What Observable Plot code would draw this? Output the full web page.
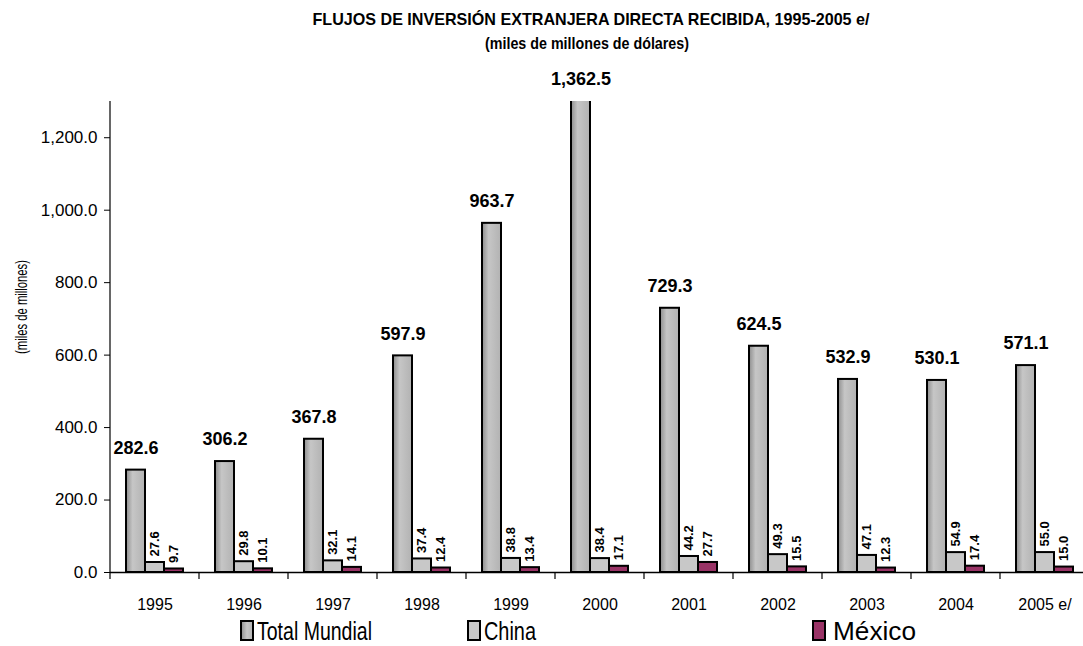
<!DOCTYPE html>
<html>
<head>
<meta charset="utf-8">
<script src="https://cdn.jsdelivr.net/npm/d3@7"></script>
<script src="https://cdn.jsdelivr.net/npm/@observablehq/plot@0.6"></script>
<style>
  html, body { margin: 0; padding: 0; background: #fff; }
  #wrap { position: relative; width: 1083px; height: 646px; overflow: hidden; font-family: "Liberation Sans", Arial, sans-serif; }
  #title { position: absolute; left: 0; top: 0; }
  #ylab { position: absolute; left: 0; top: 0; }
  #chart { position: absolute; left: 0; top: 60px; }
  #legend { position: absolute; left: 0; top: 610px; }
</style>
</head>
<body>
<div id="wrap">
  <svg id="title" width="1083" height="60">
    <text x="591" y="25" text-anchor="middle" font-family="Liberation Sans, Arial, sans-serif" font-weight="bold" font-size="17" textLength="557" lengthAdjust="spacingAndGlyphs">FLUJOS DE INVERSIÓN EXTRANJERA DIRECTA RECIBIDA, 1995-2005 e/</text>
    <text x="587" y="49" text-anchor="middle" font-family="Liberation Sans, Arial, sans-serif" font-weight="bold" font-size="17" textLength="204" lengthAdjust="spacingAndGlyphs">(miles de millones de dólares)</text>
  </svg>
  <div id="chart"></div>
  <svg id="ylab" width="50" height="646"></svg>
  <svg id="legend" width="1083" height="36"></svg>
</div>
<script>
const years = ["1995","1996","1997","1998","1999","2000","2001","2002","2003","2004","2005 e/"];
const totalMundial = [282.6, 306.2, 367.8, 597.9, 963.7, 1362.5, 729.3, 624.5, 532.9, 530.1, 571.1];
const china = [27.6, 29.8, 32.1, 37.4, 38.8, 38.4, 44.2, 49.3, 47.1, 54.9, 55.0];
const mexico = [9.7, 10.1, 14.1, 12.4, 13.4, 17.1, 27.7, 15.5, 12.3, 17.4, 15.0];
const seriesNames = ["Total Mundial", "China", "México"];
const seriesColors = ["url(#tmGrad)", "#c8c8c8", "#993366"];
const yTicks = [0, 200, 400, 600, 800, 1000, 1200];
const yMax = 1300;
const yLabel = "(miles de millones)";

const seriesValues = [totalMundial, china, mexico];
const rows = years.flatMap((yr, i) => seriesNames.map((s, k) => ({year: yr, series: s, value: seriesValues[k][i]})));
const fmt = d3.format(",.1f");

const chart = Plot.plot({
  width: 1083,
  height: 556,
  marginTop: 41,
  marginBottom: 44,
  marginLeft: 106,
  marginRight: -9,
  style: {fontFamily: "Liberation Sans, Arial, sans-serif", fontSize: "15px", color: "#000", background: "transparent"},
  fx: {domain: years, padding: 0, label: null},
  x: {domain: seriesNames, paddingInner: 0, paddingOuter: 0.74, axis: null},
  y: {domain: [0, yMax], ticks: yTicks},
  color: {domain: seriesNames, range: seriesColors},
  marks: [
    Plot.axisFx({anchor: "bottom", tickSize: 0, tickPadding: 26, fontSize: 16, label: null, ariaLabel: "fx-axis"}),
    Plot.axisY({ticks: yTicks, tickFormat: fmt, tickSize: 6, tickPadding: 7, fontSize: 17, label: null, ariaLabel: "y-axis"}),
    Plot.barY(rows, {fx: "year", x: "series", y: "value", fill: "series", stroke: "#000", strokeWidth: 2, clip: true}),
    Plot.ruleY([0], {stroke: "#000", strokeWidth: 1.5}),
    Plot.text(rows.filter(d => d.series === "Total Mundial"), {
      fx: "year", x: "series", y: d => Math.min(d.value, yMax), text: d => fmt(d.value),
      dy: -22, fontWeight: "bold", fontSize: 18, fill: "#000", ariaLabel: "total-labels"}),
    Plot.text(rows.filter(d => d.series !== "Total Mundial"), {
      fx: "year", x: "series", y: "value", text: d => fmt(d.value), rotate: -90, textAnchor: "start",
      dy: -6, fontWeight: "bold", fontSize: 13, fill: "#000", ariaLabel: "small-labels"})
  ]
});
document.getElementById("chart").append(chart);

const svg = d3.select(chart);
const defs = svg.insert("defs", ":first-child");
const grad = defs.append("linearGradient").attr("id", "tmGrad").attr("x1", "0").attr("x2", "1").attr("y1", "0").attr("y2", "0");
grad.append("stop").attr("offset", "0%").attr("stop-color", "#8e8e8e");
grad.append("stop").attr("offset", "35%").attr("stop-color", "#c6c6c6");
grad.append("stop").attr("offset", "100%").attr("stop-color", "#b2b2b2");

// condense text like the original
function condense(sel, factor) {
  sel.each(function() {
    const L = this.getComputedTextLength();
    this.setAttribute("textLength", (L * factor).toFixed(1));
    this.setAttribute("lengthAdjust", "spacingAndGlyphs");
  });
}
condense(svg.selectAll('g[aria-label="small-labels"] text'), 0.63);
condense(svg.selectAll('g[aria-label="fx-axis"] text'), 0.82);
condense(svg.selectAll('g[aria-label="total-labels"] text'), 0.95);

// axis lines and category boundary ticks
const fx = chart.scale("fx"), y = chart.scale("y");
const y0 = y.apply(0), yTop = y.apply(yMax);
const bounds = years.map(v => fx.apply(v)).concat([fx.apply(years[years.length - 1]) + fx.bandwidth]);
const g = svg.append("g").attr("stroke", "#000");
g.append("line").attr("x1", bounds[0]).attr("x2", bounds[0]).attr("y1", y0).attr("y2", yTop).attr("stroke-width", 1.2);
g.selectAll("line.b").data(bounds).join("line").attr("class", "b")
  .attr("x1", d => d).attr("x2", d => d).attr("y1", y0).attr("y2", y0 + 7).attr("stroke-width", 1.2);

// y-axis title
d3.select("#ylab").append("text")
  .attr("transform", "translate(21,307) rotate(-90)")
  .attr("text-anchor", "middle").attr("dy", "0.35em")
  .attr("font-family", "Liberation Sans, Arial, sans-serif").attr("font-size", 17)
  .attr("textLength", 94).attr("lengthAdjust", "spacingAndGlyphs")
  .text(yLabel);

// legend
const leg = d3.select("#legend");
const lg = leg.append("defs").append("linearGradient").attr("id", "tmGradL").attr("x1", "0").attr("x2", "1");
lg.append("stop").attr("offset", "0%").attr("stop-color", "#8e8e8e");
lg.append("stop").attr("offset", "50%").attr("stop-color", "#c6c6c6");
lg.append("stop").attr("offset", "100%").attr("stop-color", "#b2b2b2");
const legendItems = [
  {name: seriesNames[0], fill: "url(#tmGradL)", sx: 241, tx: 257, tl: 115},
  {name: seriesNames[1], fill: seriesColors[1], sx: 468, tx: 484, tl: 52},
  {name: seriesNames[2], fill: seriesColors[2], sx: 813, tx: 833, tl: 83}
];
const items = leg.selectAll("g.item").data(legendItems).join("g").attr("class", "item");
items.append("rect").attr("x", d => d.sx).attr("y", 11).attr("width", 12).attr("height", 19)
  .attr("fill", d => d.fill).attr("stroke", "#000").attr("stroke-width", 2);
items.append("text").attr("x", d => d.tx).attr("y", 30).attr("font-size", 25)
  .attr("font-family", "Liberation Sans, Arial, sans-serif")
  .attr("textLength", d => d.tl).attr("lengthAdjust", "spacingAndGlyphs").text(d => d.name);
</script>
</body>
</html>
